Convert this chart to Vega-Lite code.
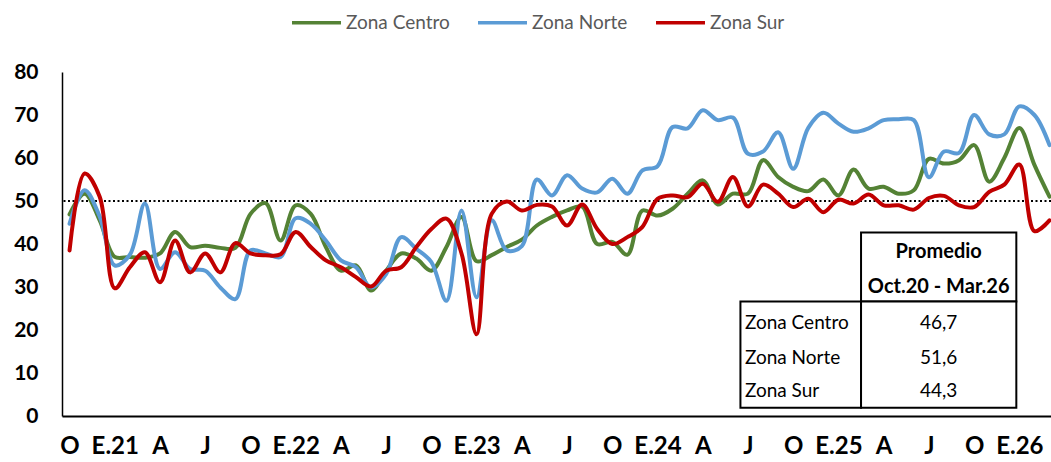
{
  "$schema": "https://vega.github.io/schema/vega-lite/v6.json",
  "width": 989,
  "height": 344,
  "autosize": {"type": "none"},
  "padding": {"left": 62, "top": 72, "right": 0, "bottom": 46},
  "background": "white",
  "config": {
    "view": {"stroke": null},
    "font": "Lato",
    "axis": {"grid": false, "ticks": false, "tickSize": 0, "domainColor": "black", "labelColor": "black", "labelFont": "Lato", "labelFontWeight": "bold", "title": null}
  },
  "datasets": {
    "series": [
      {"t":0,"zona":"Zona Centro","v":46.9},{"t":1,"zona":"Zona Centro","v":51.7},{"t":2,"zona":"Zona Centro","v":45.5},{"t":3,"zona":"Zona Centro","v":37},{"t":4,"zona":"Zona Centro","v":37},{"t":5,"zona":"Zona Centro","v":36.8},{"t":6,"zona":"Zona Centro","v":37.8},{"t":7,"zona":"Zona Centro","v":42.8},{"t":8,"zona":"Zona Centro","v":39.3},{"t":9,"zona":"Zona Centro","v":39.6},
      {"t":10,"zona":"Zona Centro","v":39.1},{"t":11,"zona":"Zona Centro","v":39.1},{"t":12,"zona":"Zona Centro","v":47},{"t":13,"zona":"Zona Centro","v":49.5},{"t":14,"zona":"Zona Centro","v":40.8},{"t":15,"zona":"Zona Centro","v":49},{"t":16,"zona":"Zona Centro","v":47},{"t":17,"zona":"Zona Centro","v":39.3},{"t":18,"zona":"Zona Centro","v":33.8},{"t":19,"zona":"Zona Centro","v":35},
      {"t":20,"zona":"Zona Centro","v":29.2},{"t":21,"zona":"Zona Centro","v":33.8},{"t":22,"zona":"Zona Centro","v":37.8},{"t":23,"zona":"Zona Centro","v":36.6},{"t":24,"zona":"Zona Centro","v":33.8},{"t":25,"zona":"Zona Centro","v":39.3},{"t":26,"zona":"Zona Centro","v":46.3},{"t":27,"zona":"Zona Centro","v":36},{"t":28,"zona":"Zona Centro","v":37.4},{"t":29,"zona":"Zona Centro","v":39.3},
      {"t":30,"zona":"Zona Centro","v":41},{"t":31,"zona":"Zona Centro","v":44.3},{"t":32,"zona":"Zona Centro","v":46.3},{"t":33,"zona":"Zona Centro","v":47.8},{"t":34,"zona":"Zona Centro","v":48.7},{"t":35,"zona":"Zona Centro","v":40},{"t":36,"zona":"Zona Centro","v":40.5},{"t":37,"zona":"Zona Centro","v":37.5},{"t":38,"zona":"Zona Centro","v":47.8},{"t":39,"zona":"Zona Centro","v":46.6},
      {"t":40,"zona":"Zona Centro","v":48.2},{"t":41,"zona":"Zona Centro","v":51.7},{"t":42,"zona":"Zona Centro","v":54.8},{"t":43,"zona":"Zona Centro","v":49.2},{"t":44,"zona":"Zona Centro","v":51.7},{"t":45,"zona":"Zona Centro","v":51.7},{"t":46,"zona":"Zona Centro","v":59.5},{"t":47,"zona":"Zona Centro","v":55.6},{"t":48,"zona":"Zona Centro","v":53.3},{"t":49,"zona":"Zona Centro","v":52.3},
      {"t":50,"zona":"Zona Centro","v":55},{"t":51,"zona":"Zona Centro","v":51.3},{"t":52,"zona":"Zona Centro","v":57.3},{"t":53,"zona":"Zona Centro","v":52.9},{"t":54,"zona":"Zona Centro","v":53.3},{"t":55,"zona":"Zona Centro","v":51.7},{"t":56,"zona":"Zona Centro","v":52.5},{"t":57,"zona":"Zona Centro","v":59.8},{"t":58,"zona":"Zona Centro","v":58.7},{"t":59,"zona":"Zona Centro","v":59.5},
      {"t":60,"zona":"Zona Centro","v":63},{"t":61,"zona":"Zona Centro","v":54.5},{"t":62,"zona":"Zona Centro","v":60},{"t":63,"zona":"Zona Centro","v":67},{"t":64,"zona":"Zona Centro","v":58.4},{"t":65,"zona":"Zona Centro","v":51},
      {"t":0,"zona":"Zona Norte","v":44.7},{"t":1,"zona":"Zona Norte","v":52.5},{"t":2,"zona":"Zona Norte","v":46.4},{"t":3,"zona":"Zona Norte","v":35},{"t":4,"zona":"Zona Norte","v":37.5},{"t":5,"zona":"Zona Norte","v":49.4},{"t":6,"zona":"Zona Norte","v":34.2},{"t":7,"zona":"Zona Norte","v":38.1},{"t":8,"zona":"Zona Norte","v":34.2},{"t":9,"zona":"Zona Norte","v":33.8},
      {"t":10,"zona":"Zona Norte","v":29.9},{"t":11,"zona":"Zona Norte","v":27.2},{"t":12,"zona":"Zona Norte","v":38.5},{"t":13,"zona":"Zona Norte","v":37.8},{"t":14,"zona":"Zona Norte","v":37},{"t":15,"zona":"Zona Norte","v":46},{"t":16,"zona":"Zona Norte","v":44.7},{"t":17,"zona":"Zona Norte","v":40.8},{"t":18,"zona":"Zona Norte","v":36.2},{"t":19,"zona":"Zona Norte","v":34.6},
      {"t":20,"zona":"Zona Norte","v":29.9},{"t":21,"zona":"Zona Norte","v":33},{"t":22,"zona":"Zona Norte","v":41.6},{"t":23,"zona":"Zona Norte","v":38.9},{"t":24,"zona":"Zona Norte","v":35.8},{"t":25,"zona":"Zona Norte","v":26.8},{"t":26,"zona":"Zona Norte","v":47.8},{"t":27,"zona":"Zona Norte","v":27.6},{"t":28,"zona":"Zona Norte","v":45.5},{"t":29,"zona":"Zona Norte","v":38.5},
      {"t":30,"zona":"Zona Norte","v":39.5},{"t":31,"zona":"Zona Norte","v":55},{"t":32,"zona":"Zona Norte","v":51.3},{"t":33,"zona":"Zona Norte","v":56},{"t":34,"zona":"Zona Norte","v":52.9},{"t":35,"zona":"Zona Norte","v":52},{"t":36,"zona":"Zona Norte","v":55.2},{"t":37,"zona":"Zona Norte","v":51.7},{"t":38,"zona":"Zona Norte","v":57.1},{"t":39,"zona":"Zona Norte","v":58.1},
      {"t":40,"zona":"Zona Norte","v":67.2},{"t":41,"zona":"Zona Norte","v":66.9},{"t":42,"zona":"Zona Norte","v":71.1},{"t":43,"zona":"Zona Norte","v":68.8},{"t":44,"zona":"Zona Norte","v":69.4},{"t":45,"zona":"Zona Norte","v":61},{"t":46,"zona":"Zona Norte","v":61.5},{"t":47,"zona":"Zona Norte","v":66},{"t":48,"zona":"Zona Norte","v":57.5},{"t":49,"zona":"Zona Norte","v":67},
      {"t":50,"zona":"Zona Norte","v":70.5},{"t":51,"zona":"Zona Norte","v":68},{"t":52,"zona":"Zona Norte","v":66.1},{"t":53,"zona":"Zona Norte","v":66.9},{"t":54,"zona":"Zona Norte","v":68.8},{"t":55,"zona":"Zona Norte","v":69},{"t":56,"zona":"Zona Norte","v":68.8},{"t":57,"zona":"Zona Norte","v":55.5},{"t":58,"zona":"Zona Norte","v":61.5},{"t":59,"zona":"Zona Norte","v":61.2},
      {"t":60,"zona":"Zona Norte","v":70},{"t":61,"zona":"Zona Norte","v":65.5},{"t":62,"zona":"Zona Norte","v":65.5},{"t":63,"zona":"Zona Norte","v":72},{"t":64,"zona":"Zona Norte","v":70},{"t":65,"zona":"Zona Norte","v":63},
      {"t":0,"zona":"Zona Sur","v":38.5},{"t":1,"zona":"Zona Sur","v":56.4},{"t":2,"zona":"Zona Sur","v":51},{"t":3,"zona":"Zona Sur","v":29.7},{"t":4,"zona":"Zona Sur","v":34.6},{"t":5,"zona":"Zona Sur","v":38.1},{"t":6,"zona":"Zona Sur","v":31.1},{"t":7,"zona":"Zona Sur","v":40.8},{"t":8,"zona":"Zona Sur","v":33.4},{"t":9,"zona":"Zona Sur","v":37.8},
      {"t":10,"zona":"Zona Sur","v":33.4},{"t":11,"zona":"Zona Sur","v":40.2},{"t":12,"zona":"Zona Sur","v":37.8},{"t":13,"zona":"Zona Sur","v":37.4},{"t":14,"zona":"Zona Sur","v":37.6},{"t":15,"zona":"Zona Sur","v":42.8},{"t":16,"zona":"Zona Sur","v":39.3},{"t":17,"zona":"Zona Sur","v":36.2},{"t":18,"zona":"Zona Sur","v":34.6},{"t":19,"zona":"Zona Sur","v":32.3},
      {"t":20,"zona":"Zona Sur","v":30.1},{"t":21,"zona":"Zona Sur","v":33.8},{"t":22,"zona":"Zona Sur","v":34.6},{"t":23,"zona":"Zona Sur","v":39.3},{"t":24,"zona":"Zona Sur","v":43.5},{"t":25,"zona":"Zona Sur","v":45.9},{"t":26,"zona":"Zona Sur","v":37.8},{"t":27,"zona":"Zona Sur","v":19},{"t":28,"zona":"Zona Sur","v":47},{"t":29,"zona":"Zona Sur","v":49.9},
      {"t":30,"zona":"Zona Sur","v":47.8},{"t":31,"zona":"Zona Sur","v":49.1},{"t":32,"zona":"Zona Sur","v":48.7},{"t":33,"zona":"Zona Sur","v":44.3},{"t":34,"zona":"Zona Sur","v":49.2},{"t":35,"zona":"Zona Sur","v":43.5},{"t":36,"zona":"Zona Sur","v":40},{"t":37,"zona":"Zona Sur","v":41.6},{"t":38,"zona":"Zona Sur","v":44},{"t":39,"zona":"Zona Sur","v":50.5},
      {"t":40,"zona":"Zona Sur","v":51.3},{"t":41,"zona":"Zona Sur","v":50.9},{"t":42,"zona":"Zona Sur","v":54},{"t":43,"zona":"Zona Sur","v":49.8},{"t":44,"zona":"Zona Sur","v":55.6},{"t":45,"zona":"Zona Sur","v":48.7},{"t":46,"zona":"Zona Sur","v":53.8},{"t":47,"zona":"Zona Sur","v":51.7},{"t":48,"zona":"Zona Sur","v":48.6},{"t":49,"zona":"Zona Sur","v":50.5},
      {"t":50,"zona":"Zona Sur","v":47.4},{"t":51,"zona":"Zona Sur","v":50.3},{"t":52,"zona":"Zona Sur","v":49.4},{"t":53,"zona":"Zona Sur","v":51.5},{"t":54,"zona":"Zona Sur","v":49},{"t":55,"zona":"Zona Sur","v":49},{"t":56,"zona":"Zona Sur","v":48},{"t":57,"zona":"Zona Sur","v":50.7},{"t":58,"zona":"Zona Sur","v":51.2},{"t":59,"zona":"Zona Sur","v":49},
      {"t":60,"zona":"Zona Sur","v":48.6},{"t":61,"zona":"Zona Sur","v":52.1},{"t":62,"zona":"Zona Sur","v":53.8},{"t":63,"zona":"Zona Sur","v":58.5},{"t":64,"zona":"Zona Sur","v":43},{"t":65,"zona":"Zona Sur","v":45.5}
    ],
    "promedios": [
      {"zona": "Zona Centro", "promedio": "46,7"},
      {"zona": "Zona Norte", "promedio": "51,6"},
      {"zona": "Zona Sur", "promedio": "44,3"}
    ],
    "referencia": [{"nivel": 50}],
    "uno": [{}]
  },
  "layer": [
    {
      "data": {"name": "referencia"},
      "mark": {"type": "rule", "color": "black", "strokeWidth": 2, "strokeDash": [2, 2.5]},
      "encoding": {
        "y": {"field": "nivel", "type": "quantitative", "scale": {"domain": [0, 80], "nice": false, "zero": true}}
      }
    },
    {
      "data": {"name": "series"},
      "mark": {"type": "line", "interpolate": "catmull-rom", "strokeWidth": 4, "strokeCap": "round", "strokeJoin": "round"},
      "encoding": {
        "x": {
          "field": "t", "type": "quantitative",
          "scale": {"domain": [-0.5, 65.1], "nice": false, "zero": false},
          "axis": {
            "values": [0,3,6,9,12,15,18,21,24,27,30,33,36,39,42,45,48,51,54,57,60,63],
            "labelExpr": "['O','E.21','A','J','O','E.22','A','J','O','E.23','A','J','O','E.24','A','J','O','E.25','A','J','O','E.26'][datum.value/3]",
            "labelFontSize": 24, "labelPadding": 18, "domainWidth": 2, "labelFlush": false, "labelOverlap": false
          }
        },
        "y": {
          "field": "v", "type": "quantitative",
          "scale": {"domain": [0, 80], "nice": false},
          "axis": {"values": [0,10,20,30,40,50,60,70,80], "labelFontSize": 21, "labelPadding": 24, "domainWidth": 1.5}
        },
        "color": {
          "field": "zona", "type": "nominal",
          "scale": {"domain": ["Zona Centro", "Zona Norte", "Zona Sur"], "range": ["#548235", "#5B9BD5", "#C00000"]},
          "legend": {
            "title": null, "orient": "none", "direction": "horizontal", "legendX": 228, "legendY": -76,
            "symbolType": "stroke", "symbolSize": 2400, "symbolStrokeWidth": 3.5,
            "labelFont": "Lato", "labelFontSize": 19, "labelColor": "#595959", "labelOffset": 3,
            "columnPadding": 21, "padding": 0
          }
        }
      }
    },
    {
      "data": {"name": "uno"},
      "mark": {"type": "rect", "fill": "white", "stroke": "black", "strokeWidth": 2},
      "encoding": {"x": {"datum": 52.5}, "x2": {"datum": 62.8}, "y": {"datum": 26.6}, "y2": {"datum": 42.7}}
    },
    {
      "data": {"name": "uno"},
      "mark": {"type": "rect", "fill": "white", "stroke": "black", "strokeWidth": 2},
      "encoding": {"x": {"datum": 44.5}, "x2": {"datum": 52.5}, "y": {"datum": 1.9}, "y2": {"datum": 26.6}}
    },
    {
      "data": {"name": "uno"},
      "mark": {"type": "rect", "fill": "white", "stroke": "black", "strokeWidth": 2},
      "encoding": {"x": {"datum": 52.5}, "x2": {"datum": 62.8}, "y": {"datum": 1.9}, "y2": {"datum": 26.6}}
    },
    {
      "data": {"name": "uno"},
      "mark": {"type": "text", "text": "Promedio", "font": "Lato", "fontSize": 20, "fontWeight": "bold", "color": "black", "align": "center", "baseline": "middle"},
      "encoding": {"x": {"datum": 57.65}, "y": {"datum": 38.1}}
    },
    {
      "data": {"name": "uno"},
      "mark": {"type": "text", "text": "Oct.20 - Mar.26", "font": "Lato", "fontSize": 20, "fontWeight": "bold", "color": "black", "align": "center", "baseline": "middle"},
      "encoding": {"x": {"datum": 57.65}, "y": {"datum": 29.9}}
    },
    {
      "data": {"name": "promedios"},
      "transform": [{"filter": "datum.zona == 'Zona Centro'"}],
      "mark": {"type": "text", "font": "Lato", "fontSize": 19, "color": "black", "align": "left", "baseline": "middle"},
      "encoding": {"x": {"datum": 44.8}, "y": {"datum": 21.7}, "text": {"field": "zona"}}
    },
    {
      "data": {"name": "promedios"},
      "transform": [{"filter": "datum.zona == 'Zona Norte'"}],
      "mark": {"type": "text", "font": "Lato", "fontSize": 19, "color": "black", "align": "left", "baseline": "middle"},
      "encoding": {"x": {"datum": 44.8}, "y": {"datum": 13.5}, "text": {"field": "zona"}}
    },
    {
      "data": {"name": "promedios"},
      "transform": [{"filter": "datum.zona == 'Zona Sur'"}],
      "mark": {"type": "text", "font": "Lato", "fontSize": 19, "color": "black", "align": "left", "baseline": "middle"},
      "encoding": {"x": {"datum": 44.8}, "y": {"datum": 5.8}, "text": {"field": "zona"}}
    },
    {
      "data": {"name": "promedios"},
      "transform": [{"filter": "datum.zona == 'Zona Centro'"}],
      "mark": {"type": "text", "font": "Lato", "fontSize": 19, "color": "black", "align": "center", "baseline": "middle"},
      "encoding": {"x": {"datum": 57.65}, "y": {"datum": 21.7}, "text": {"field": "promedio"}}
    },
    {
      "data": {"name": "promedios"},
      "transform": [{"filter": "datum.zona == 'Zona Norte'"}],
      "mark": {"type": "text", "font": "Lato", "fontSize": 19, "color": "black", "align": "center", "baseline": "middle"},
      "encoding": {"x": {"datum": 57.65}, "y": {"datum": 13.5}, "text": {"field": "promedio"}}
    },
    {
      "data": {"name": "promedios"},
      "transform": [{"filter": "datum.zona == 'Zona Sur'"}],
      "mark": {"type": "text", "font": "Lato", "fontSize": 19, "color": "black", "align": "center", "baseline": "middle"},
      "encoding": {"x": {"datum": 57.65}, "y": {"datum": 5.8}, "text": {"field": "promedio"}}
    }
  ]
}
